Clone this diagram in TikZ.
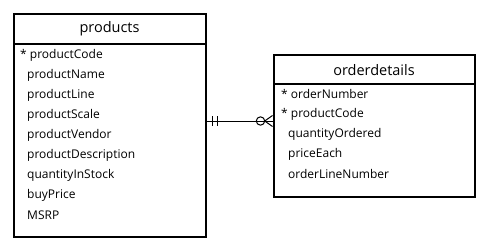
\documentclass[tikz,border=0pt]{standalone}
\usepackage{fontspec}
\setmainfont{Open Sans}
\begin{document}
\begin{tikzpicture}[x=1pt,y=-1pt,
  tablebox/.style={draw=black,line width=2pt},
  title/.style={font=\fontsize{14.5}{16}\selectfont,inner sep=0pt},
  field/.style={font=\fontsize{12}{14}\selectfont,anchor=west,inner sep=0pt},
  rel/.style={line width=1pt}]
\useasboundingbox (0,0) rectangle (477,246);
% products table
\draw[tablebox] (13.5,14.5) rectangle (205.5,237);
\draw[tablebox] (13.5,44) -- (205.5,44);
\node[title] (ptitle) at (109.5,29) {products};
\node[field] (p1) at (20,55) {* productCode};
\node[field] (p2) at (27,75) {productName};
\node[field] (p3) at (27,95) {productLine};
\node[field] (p4) at (27,115) {productScale};
\node[field] (p5) at (27,135) {productVendor};
\node[field] (p6) at (27,155) {productDescription};
\node[field] (p7) at (27,175) {quantityInStock};
\node[field] (p8) at (27,195) {buyPrice};
\node[field] (p9) at (27,215) {MSRP};
% orderdetails table
\draw[tablebox] (273.5,55) rectangle (474.5,197);
\draw[tablebox] (273.5,84) -- (474.5,84);
\node[title] (otitle) at (374,70) {orderdetails};
\node[field] (o1) at (281,94) {* orderNumber};
\node[field] (o2) at (281,114) {* productCode};
\node[field] (o3) at (288,134) {quantityOrdered};
\node[field] (o4) at (288,154) {priceEach};
\node[field] (o5) at (288,174) {orderLineNumber};
% relationship: one-and-only-one to zero-or-many
\coordinate (ra) at (206.5,121);
\coordinate (rb) at (272.5,121);
\draw[rel] (ra) -- (rb);
\draw[rel] (212,116.5) -- (212,125.5);
\draw[rel] (217,116.5) -- (217,125.5);
\draw[rel] (260.5,121) circle (4.2);
\draw[rel] (264.7,121) -- (272.5,115.5);
\draw[rel] (264.7,121) -- (272.5,126.5);
\end{tikzpicture}
\end{document}
